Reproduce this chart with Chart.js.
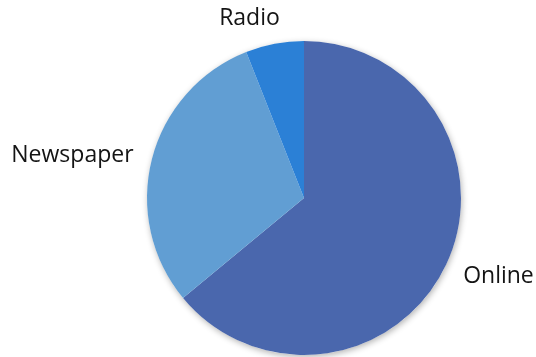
<!DOCTYPE html>
<html>
<head>
<meta charset="utf-8">
<script src="https://cdn.jsdelivr.net/npm/chart.js@4/dist/chart.umd.min.js"></script>
<style>
    html, body { margin: 0; padding: 0; background: #fff; }
    #wrap { width: 536px; height: 357px; position: relative; }
</style>
</head>
<body>
<div id="wrap"><canvas id="pieChart"></canvas></div>
<script>
// Chart data
const categories = ['Online', 'Newspaper', 'Radio'];
const shares = [64, 30, 6];
const sliceColors = ['#4a67ad', '#619ed3', '#2b80d6'];

// Soft shadow behind the whole pie
const pieShadow = {
    id: 'pieShadow',
    beforeDatasetsDraw(chart) {
        const arc = chart.getDatasetMeta(0).data[0];
        if (!arc) return;
        const ctx = chart.ctx;
        ctx.save();
        ctx.shadowColor = 'rgba(0, 0, 0, 0.3)';
        ctx.shadowBlur = 6;
        ctx.shadowOffsetX = 1;
        ctx.shadowOffsetY = 2;
        ctx.fillStyle = '#ffffff';
        ctx.beginPath();
        ctx.arc(arc.x, arc.y, arc.outerRadius, 0, Math.PI * 2);
        ctx.fill();
        ctx.restore();
    }
};

// Category labels outside each slice
const outsideLabels = {
    id: 'outsideLabels',
    afterDatasetsDraw(chart, args, opts) {
        const ctx = chart.ctx;
        const meta = chart.getDatasetMeta(0);
        ctx.save();
        ctx.font = opts.font;
        ctx.fillStyle = opts.color;
        ctx.textBaseline = 'middle';
        meta.data.forEach((arc, i) => {
            const mid = (arc.startAngle + arc.endAngle) / 2;
            const r = arc.outerRadius + opts.gap;
            const nudge = opts.nudges[i] || [0, 0];
            const x = arc.x + Math.cos(mid) * r + nudge[0];
            const y = arc.y + Math.sin(mid) * r + nudge[1];
            ctx.textAlign = Math.cos(mid) >= 0 ? 'left' : 'right';
            ctx.fillText(chart.data.labels[i], x, y);
        });
        ctx.restore();
    }
};

new Chart(document.getElementById('pieChart'), {
    type: 'pie',
    data: {
        labels: categories,
        datasets: [{
            data: shares,
            backgroundColor: sliceColors,
            borderWidth: 0,
            hoverOffset: 0
        }]
    },
    options: {
        responsive: true,
        maintainAspectRatio: false,
        animation: false,
        layout: {
            padding: { left: 147, right: 75, top: 41, bottom: 2 }
        },
        plugins: {
            legend: { display: false },
            tooltip: { enabled: false },
            outsideLabels: {
                font: '23px "Open Sans", sans-serif',
                color: '#141414',
                gap: 20,
                nudges: [[-1, 3], [1, 1], [9, -6]]
            }
        }
    },
    plugins: [pieShadow, outsideLabels]
});
</script>
</body>
</html>
